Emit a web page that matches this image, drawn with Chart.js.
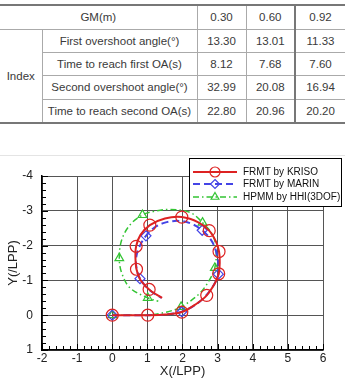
<!DOCTYPE html>
<html>
<head>
<meta charset="utf-8">
<script src="https://cdn.jsdelivr.net/npm/chart.js@4.4.0/dist/chart.umd.min.js"></script>
<style>
  body { margin: 0; background: #fff; font-family: "Liberation Sans", Arial, sans-serif; }
  #tbl { position: absolute; left: 0; top: 4px; width: 345px; border-collapse: collapse; table-layout: fixed;
         color: #3a3a3a; font-size: 11.5px; border-top: 2px solid #777; border-bottom: 2px solid #777; }
  #tbl td { text-align: center; padding: 0; border: 1px solid #aaa; white-space: nowrap; }
  #tbl tr td:first-child { border-left: none; }
  #tbl tr td:last-child { border-right: none; }
  #tbl td.sep { border-left: 2px solid #777; }
  #rule { position: absolute; left: 0; top: 155px; width: 345px; height: 1px; background: #e4e4e4; }
  #wrap { position: absolute; left: 0; top: 150px; width: 345px; height: 229px; }
</style>
</head>
<body>
<table id="tbl">
  <colgroup><col style="width:42px"><col style="width:155px"><col style="width:49px"><col style="width:49px"><col style="width:50px"></colgroup>
  <tbody id="tbody"></tbody>
</table>
<div id="rule"></div>
<div id="wrap"><canvas id="chart" width="345" height="229"></canvas></div>
<script>
// table values
const gmValues = ['0.30', '0.60', '0.92'];
const indexLabels = ['First overshoot angle(°)', 'Time to reach first OA(s)', 'Second overshoot angle(°)', 'Time to reach second OA(s)'];
const indexValues = [
    ['13.30', '13.01', '11.33'],
    ['8.12', '7.68', '7.60'],
    ['32.99', '20.08', '16.94'],
    ['22.80', '20.96', '20.20']
];
const rowHeights = [24, 23, 23, 24, 24];

// trajectories
const krisoX = [0, 0.5, 1.01, 1.5, 1.98, 2.4, 2.69, 2.93, 3.03, 3.06, 3.04, 2.96, 2.76, 2.45, 1.98, 1.5, 1.07, 0.8, 0.68, 0.66, 0.69, 0.8, 1.05, 1.25, 1.42];
const krisoY = [0, 0, 0, -0.02, -0.09, -0.33, -0.57, -0.93, -1.19, -1.5, -1.83, -2.1, -2.43, -2.67, -2.82, -2.78, -2.59, -2.3, -1.98, -1.65, -1.32, -1.02, -0.74, -0.6, -0.5];
const krisoMarks = [0, 2, 4, 6, 8, 10, 12, 14, 16, 18, 20, 22];

const marinX = [0, 0.5, 1.0, 1.5, 1.98, 2.4, 2.7, 2.92, 3.02, 3.02, 2.95, 2.82, 2.56, 2.25, 1.9, 1.5, 1.2, 0.96, 0.78, 0.68, 0.7, 0.79, 0.98, 1.2, 1.4];
const marinY = [0, 0, 0, -0.02, -0.1, -0.32, -0.6, -0.92, -1.18, -1.5, -1.85, -2.15, -2.44, -2.63, -2.71, -2.66, -2.52, -2.28, -1.98, -1.65, -1.3, -1.05, -0.8, -0.62, -0.5];
const marinMarks = [0, 4, 8, 12, 17, 21];

const hhiX = [0, 0.5, 1.0, 1.5, 1.96, 2.5, 2.83, 2.92, 2.96, 2.88, 2.57, 2.22, 1.65, 1.17, 0.86, 0.51, 0.27, 0.2, 0.27, 0.51, 1.01, 1.31];
const hhiY = [0, 0, -0.01, -0.08, -0.24, -0.64, -1.12, -1.36, -1.78, -2.26, -2.66, -2.95, -3.04, -2.98, -2.88, -2.6, -2.17, -1.64, -1.21, -0.78, -0.5, -0.4];
const hhiMarks = [0, 4, 7, 10, 14, 17, 20];

const seriesNames = ['FRMT by KRISO', 'FRMT by MARIN', 'HPMM by HHI(3DOF)'];
const seriesColors = ['#dd2222', '#4444e6', '#33c433'];
const yTitle = 'Y(/LPP)';

// build table
const tbody = document.getElementById('tbody');
let html = `<tr style="height:${rowHeights[0]}px"><td colspan="2">GM(m)</td>`;
gmValues.forEach((v, i) => { html += `<td${i === 2 ? ' class="sep"' : ''}>${v}</td>`; });
html += '</tr>';
indexLabels.forEach((label, r) => {
    html += `<tr style="height:${rowHeights[r + 1]}px">`;
    if (r === 0) html += `<td rowspan="4">Index</td>`;
    html += `<td>${label}</td>`;
    indexValues[r].forEach((v, i) => { html += `<td${i === 2 ? ' class="sep"' : ''}>${v}</td>`; });
    html += '</tr>';
});
tbody.innerHTML = html;

function points(xs, ys) {
    return xs.map((x, i) => ({ x: x, y: ys[i] }));
}

const pointStyles = ['circle', 'rectRot', 'triangle'];
const markSets = [krisoMarks, marinMarks, hhiMarks];
const dashes = [[], [7, 4], [6, 3, 1.5, 3]];

const datasets = [
    points(krisoX, krisoY),
    points(marinX, marinY),
    points(hhiX, hhiY)
].map((data, s) => ({
    label: seriesNames[s],
    data: data,
    showLine: true,
    borderColor: seriesColors[s],
    borderWidth: s === 2 ? 1.5 : 2,
    borderDash: dashes[s],
    tension: 0.35,
    fill: false,
    pointStyle: pointStyles[s],
    pointBackgroundColor: 'rgba(0,0,0,0)',
    pointBorderColor: seriesColors[s],
    pointBorderWidth: 1.2,
    pointRadius: ctx => markSets[s].includes(ctx.dataIndex) ? (s === 0 ? 6 : 5) : 0,
    pointHoverRadius: 0
}));

function drawMarker(ctx, style, x, y, r) {
    ctx.beginPath();
    if (style === 'circle') {
        ctx.arc(x, y, r, 0, Math.PI * 2);
    } else if (style === 'rectRot') {
        ctx.moveTo(x, y - r); ctx.lineTo(x + r, y); ctx.lineTo(x, y + r); ctx.lineTo(x - r, y); ctx.closePath();
    } else {
        ctx.moveTo(x, y - r); ctx.lineTo(x + r * 0.87, y + r * 0.5); ctx.lineTo(x - r * 0.87, y + r * 0.5); ctx.closePath();
    }
    ctx.stroke();
}

const extras = {
    id: 'extras',
    afterDraw(chart) {
        const ctx = chart.ctx;
        const xs = chart.scales.x, ys = chart.scales.y;
        const area = chart.chartArea;
        ctx.save();
        // minor ticks, pointing inward
        ctx.strokeStyle = '#000';
        ctx.lineWidth = 1;
        ctx.beginPath();
        for (let v = xs.min; v <= xs.max + 1e-6; v += 0.2) {
            const px = Math.round(xs.getPixelForValue(v)) + 0.5;
            const len = Math.abs(v - Math.round(v)) < 1e-6 ? 6 : 4;
            ctx.moveTo(px, area.bottom); ctx.lineTo(px, area.bottom - len);
        }
        for (let v = ys.min; v <= ys.max + 1e-6; v += 0.2) {
            const py = Math.round(ys.getPixelForValue(v)) + 0.5;
            const len = Math.abs(v - Math.round(v)) < 1e-6 ? 6 : 4;
            ctx.moveTo(area.left, py); ctx.lineTo(area.left + len, py);
        }
        ctx.stroke();

        // y axis title
        ctx.save();
        ctx.translate(13, (area.top + area.bottom) / 2);
        ctx.rotate(-Math.PI / 2);
        ctx.font = '13px "Liberation Sans", Arial, sans-serif';
        ctx.fillStyle = '#222';
        ctx.textAlign = 'center';
        ctx.textBaseline = 'middle';
        ctx.fillText(yTitle, 0, 0);
        ctx.restore();

        // legend box
        const bx = 189.5, by = 8.5, bw = 152, bh = 48;
        ctx.fillStyle = '#fff';
        ctx.fillRect(bx, by, bw, bh);
        ctx.strokeStyle = '#000';
        ctx.lineWidth = 1;
        ctx.strokeRect(bx, by, bw, bh);
        const rowsY = [22, 34, 47];
        ctx.font = '10px "Liberation Sans", Arial, sans-serif';
        ctx.textBaseline = 'middle';
        chart.data.datasets.forEach((ds, i) => {
            const y = rowsY[i];
            ctx.strokeStyle = ds.borderColor;
            ctx.lineWidth = ds.borderWidth;
            ctx.setLineDash(ds.borderDash);
            ctx.beginPath();
            ctx.moveTo(193, y); ctx.lineTo(237, y);
            ctx.stroke();
            ctx.setLineDash([]);
            ctx.lineWidth = 1.2;
            drawMarker(ctx, ds.pointStyle, 215, y, i === 0 ? 5 : 4.5);
            ctx.fillStyle = '#111';
            ctx.fillText(ds.label, 243, y + 0.5);
        });
        ctx.restore();
    }
};

new Chart(document.getElementById('chart'), {
    type: 'scatter',
    data: { datasets: datasets },
    options: {
        responsive: false,
        animation: false,
        layout: { padding: { top: 26, right: 22, left: 0, bottom: 0 } },
        plugins: { legend: { display: false }, tooltip: { enabled: false } },
        scales: {
            x: {
                type: 'linear', min: -2, max: 6,
                ticks: { stepSize: 1, color: '#222', padding: 1, font: { family: '"Liberation Sans", Arial, sans-serif', size: 12 } },
                grid: { color: '#555', lineWidth: 1, drawTicks: false },
                border: { color: '#000', width: 1.5 },
                title: { display: true, text: 'X(/LPP)', color: '#222', padding: 0, font: { family: '"Liberation Sans", Arial, sans-serif', size: 13 } },
                afterFit: s => { s.height = 29; }
            },
            y: {
                type: 'linear', min: -4, max: 1, reverse: true,
                ticks: { stepSize: 1, color: '#222', padding: 9, font: { family: '"Liberation Sans", Arial, sans-serif', size: 12 } },
                grid: { color: '#555', lineWidth: 1, drawTicks: false },
                border: { color: '#000', width: 1.5 },
                afterFit: s => { s.width = 42; }
            }
        }
    },
    plugins: [extras]
});
</script>
</body>
</html>
